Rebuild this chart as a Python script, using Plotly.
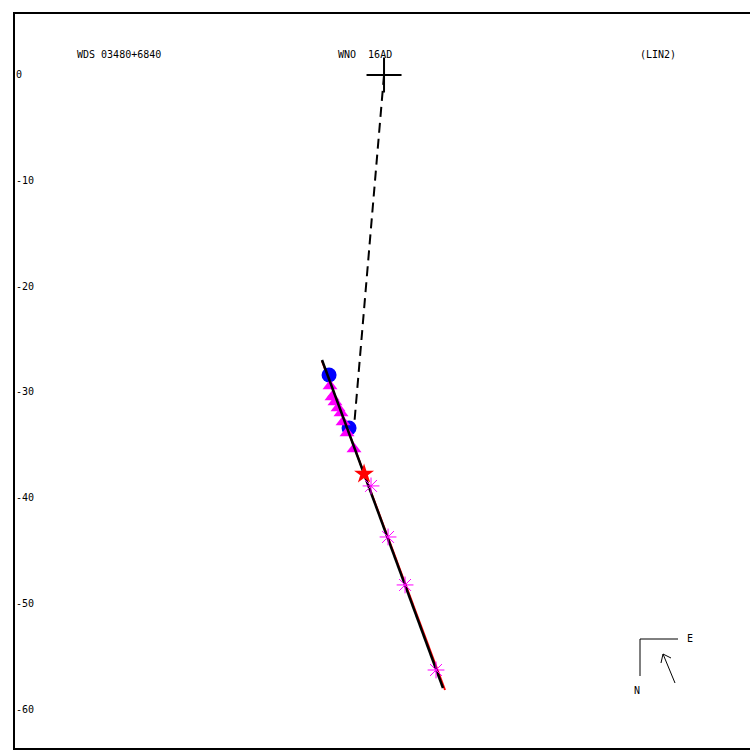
import plotly.graph_objects as go

# ---- data (arcsec offsets; x east-ish, y north-ish) ----
primary_x = [0.0]
primary_y = [0.0]

fit_x = [-5.87, 5.58]
fit_y = [-26.97, -58.01]

orbit_x = [-5.87, 1.99, 5.77]
orbit_y = [-27.06, -48.07, -58.2]

node_x = [0.0, -2.84]
node_y = [0.0, -33.31]

circle_x = [-5.20, -3.31]
circle_y = [-28.39, -33.41]

tri_x = [-5.11, -4.92, -4.64, -4.35, -4.07, -3.88, -3.50, -2.84]
tri_y = [-29.43, -30.47, -30.95, -31.51, -31.99, -32.84, -33.88, -35.39]

star_x = [-1.89]
star_y = [-37.76]

ast_x = [-1.23, 0.38, 1.99, 4.92]
ast_y = [-38.89, -43.72, -48.26, -56.31]

resid_x = [-5.30, -4.83, None, -5.01, -4.64]
resid_y = [-30.47, -30.28, None, -31.04, -30.76]

ytick_vals = [0, -10, -20, -30, -40, -50, -60]
ytick_text = ["0", "-10", "-20", "-30", "-40", "-50", "-60"]

title_left = "WDS 03480+6840"
title_mid = "WNO\u00a0\u00a016AD"
title_right = "(LIN2)"

FONT = "DejaVu Sans Mono"

fig = go.Figure()

fig.add_trace(go.Scatter(x=node_x, y=node_y, mode="lines",
                         line=dict(color="black", width=2, dash="10px,6px")))
fig.add_trace(go.Scatter(x=orbit_x, y=orbit_y, mode="lines",
                         line=dict(color="red", width=2)))
fig.add_trace(go.Scatter(x=resid_x, y=resid_y, mode="lines",
                         line=dict(color="red", width=2)))
fig.add_trace(go.Scatter(x=circle_x, y=circle_y, mode="markers",
                         marker=dict(symbol="circle", size=15, color="blue")))
fig.add_trace(go.Scatter(x=tri_x, y=tri_y, mode="markers",
                         marker=dict(symbol="triangle-up", size=13, color="magenta")))
fig.add_trace(go.Scatter(x=fit_x, y=fit_y, mode="lines",
                         line=dict(color="black", width=2.5)))
fig.add_trace(go.Scatter(x=star_x, y=star_y, mode="markers",
                         marker=dict(symbol="star", size=15, color="red")))
fig.add_trace(go.Scatter(x=ast_x, y=ast_y, mode="markers",
                         marker=dict(symbol="asterisk-open", size=14, color="magenta",
                                     line=dict(color="magenta", width=1))))
fig.add_trace(go.Scatter(x=primary_x, y=primary_y, mode="markers",
                         marker=dict(symbol="cross-thin-open", size=25, color="black",
                                     line=dict(color="black", width=2))))

# compass (paper coordinates)
W, H, L, T = 735.0, 734.0, 15.0, 14.0
def px(x):
    return (x - L) / W
def py(y):
    return (T + H - y) / H

shapes = [
    dict(type="line", xref="paper", yref="paper", x0=px(640), y0=py(639), x1=px(678), y1=py(639),
         line=dict(color="black", width=1)),
    dict(type="line", xref="paper", yref="paper", x0=px(640), y0=py(639), x1=px(640), y1=py(676),
         line=dict(color="black", width=1)),
    dict(type="line", xref="paper", yref="paper", x0=px(675), y0=py(683), x1=px(663), y1=py(654),
         line=dict(color="black", width=1)),
    dict(type="line", xref="paper", yref="paper", x0=px(663), y0=py(654), x1=px(661), y1=py(663),
         line=dict(color="black", width=1)),
    dict(type="line", xref="paper", yref="paper", x0=px(663), y0=py(654), x1=px(671), y1=py(658),
         line=dict(color="black", width=1)),
]

annotations = [
    dict(text=title_left, xref="paper", yref="paper", x=px(75), y=py(55),
         xanchor="left", yanchor="middle", showarrow=False),
    dict(text=title_mid, xref="paper", yref="paper", x=px(336), y=py(55),
         xanchor="left", yanchor="middle", showarrow=False),
    dict(text=title_right, xref="paper", yref="paper", x=px(638), y=py(55),
         xanchor="left", yanchor="middle", showarrow=False),
    dict(text="E", xref="paper", yref="paper", x=px(685), y=py(638),
         xanchor="left", yanchor="middle", showarrow=False),
    dict(text="N", xref="paper", yref="paper", x=px(637), y=py(690),
         xanchor="center", yanchor="middle", showarrow=False),
]

fig.update_layout(
    width=750, height=750,
    margin=dict(l=15, r=0, t=14, b=2),
    paper_bgcolor="white", plot_bgcolor="white",
    showlegend=False,
    font=dict(family=FONT, size=10, color="black"),
    shapes=shapes, annotations=annotations,
)
fig.update_xaxes(range=[-34.92, 34.63], showgrid=False, zeroline=False,
                 showticklabels=False, ticks="", showline=True, linecolor="black",
                 linewidth=2, mirror=True)
fig.update_yaxes(range=[-63.69, 5.77], showgrid=False, zeroline=False,
                 tickvals=ytick_vals, ticktext=ytick_text, ticks="",
                 ticklabelposition="inside", showline=True, linecolor="black",
                 linewidth=2, tickfont=dict(family=FONT, size=10, color="black"))

fig.write_html("out.html", config={"displayModeBar": False},
               post_script="document.body.style.margin='0';document.body.style.overflow='hidden';")
